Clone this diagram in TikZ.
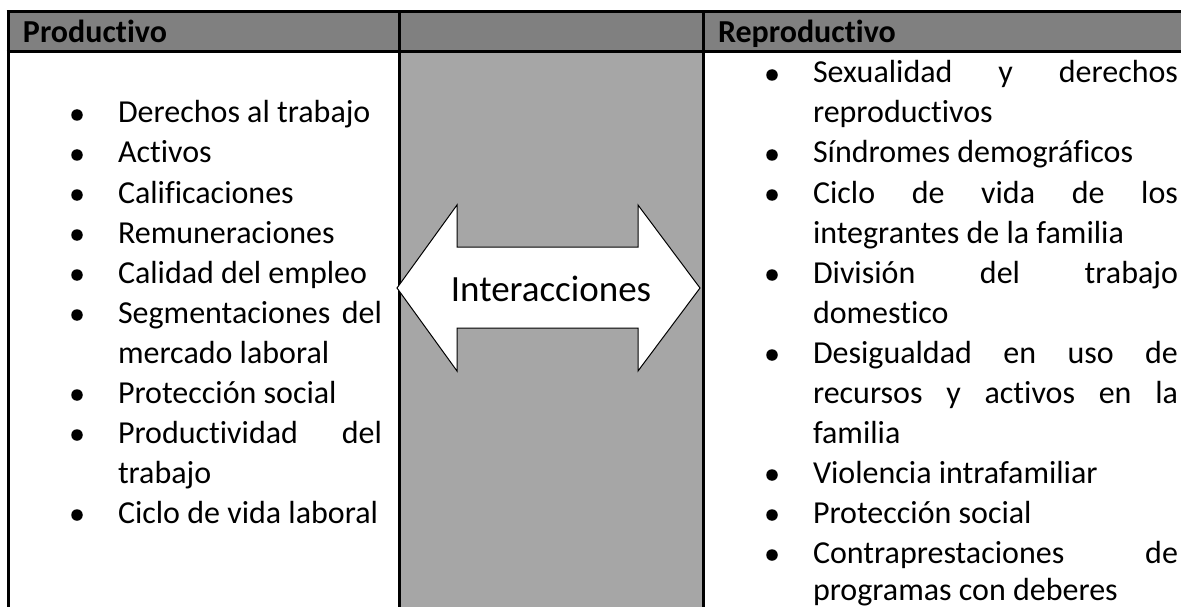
\documentclass[tikz,border=0pt]{standalone}
\usepackage{fontspec}
\setmainfont{Carlito}[Ligatures={NoCommon}]
\definecolor{hdrgray}{HTML}{808080}
\definecolor{midgray}{HTML}{A6A6A6}
\begin{document}
\begin{tikzpicture}[x=1pt,y=-1pt,
  itemtext/.style={anchor=base west, inner sep=0pt, outer sep=0pt, font=\fontsize{32}{38}\selectfont},
  hdrtext/.style={anchor=base west, inner sep=0pt, outer sep=0pt, font=\fontsize{32}{38}\selectfont\bfseries},
  bulletdot/.style={circle, fill=black, inner sep=0pt, minimum size=11.5pt},
  tablerule/.style={line width=3pt, black},
  arrowshape/.style={draw=black, fill=white, line width=1pt, line join=miter}]
\useasboundingbox (0,0) rectangle (1181,607);
% fills
\fill[hdrgray] (8,12) rectangle (1185,52);
\fill[midgray] (399,52) rectangle (703,612);
% rules
\draw[tablerule] (6.5,12) -- (1185,12);
\draw[tablerule] (6.5,52) -- (1185,52);
\draw[tablerule] (8,10.5) -- (8,612);
\draw[tablerule] (399,10.5) -- (399,612);
\draw[tablerule] (703,10.5) -- (703,612);
% headers
\node[hdrtext] (hprod) at (23,43) {Productivo};
\node[hdrtext] (hrepr) at (718,43) {Reproductivo};
% arrow
\draw[arrowshape] (397,288) -- (457,205) -- (457,247) -- (638,247) -- (638,205)
  -- (700,288) -- (638,371) -- (638,328) -- (457,328) -- (457,371) -- cycle;
\node[anchor=base, inner sep=0pt, font=\fontsize{37}{44}\selectfont] (inter) at (551,301) {Interacciones};
% left column
\node[itemtext] (l0) at (118,123) {Derechos al trabajo};
\node[itemtext] (l1) at (118,163) {Activos};
\node[itemtext] (l2) at (118,203) {Calificaciones};
\node[itemtext] (l3) at (118,243) {Remuneraciones};
\node[itemtext] (l4) at (118,283) {Calidad del empleo};
\node[itemtext] (l5) at (118,323) {\makebox[264pt][s]{Segmentaciones del}};
\node[itemtext] (l6) at (118,363) {mercado laboral};
\node[itemtext] (l7) at (118,403) {Protección social};
\node[itemtext] (l8) at (118,443) {\makebox[264pt][s]{Productividad del}};
\node[itemtext] (l9) at (118,483) {trabajo};
\node[itemtext] (l10) at (118,523) {Ciclo de vida laboral};
\foreach \k/\yy in {0/123,1/163,2/203,3/243,4/283,5/323,7/403,8/443,10/523}
  \node[bulletdot] (bl\k) at (77,\yy-8) {};
% right column
\node[itemtext] (r0) at (813,83) {\makebox[365pt][s]{Sexualidad y derechos}};
\node[itemtext] (r1) at (813,123) {reproductivos};
\node[itemtext] (r2) at (813,163) {Síndromes demográficos};
\node[itemtext] (r3) at (813,203) {\makebox[365pt][s]{Ciclo de vida de los}};
\node[itemtext] (r4) at (813,243) {integrantes de la familia};
\node[itemtext] (r5) at (813,283) {\makebox[365pt][s]{División del trabajo}};
\node[itemtext] (r6) at (813,323) {domestico};
\node[itemtext] (r7) at (813,363) {\makebox[365pt][s]{Desigualdad en uso de}};
\node[itemtext] (r8) at (813,403) {\makebox[365pt][s]{recursos y activos en la}};
\node[itemtext] (r9) at (813,443) {familia};
\node[itemtext] (r10) at (813,483) {Violencia intrafamiliar};
\node[itemtext] (r11) at (813,523) {Protección social};
\node[itemtext] (r12) at (813,563) {\makebox[365pt][s]{Contraprestaciones de}};
\node[itemtext] (r13) at (813,600) {programas con deberes};
\foreach \k/\yy in {0/83,2/163,3/203,5/283,7/363,10/483,11/523,12/563}
  \node[bulletdot] (br\k) at (772,\yy-8) {};
\end{tikzpicture}
\end{document}
